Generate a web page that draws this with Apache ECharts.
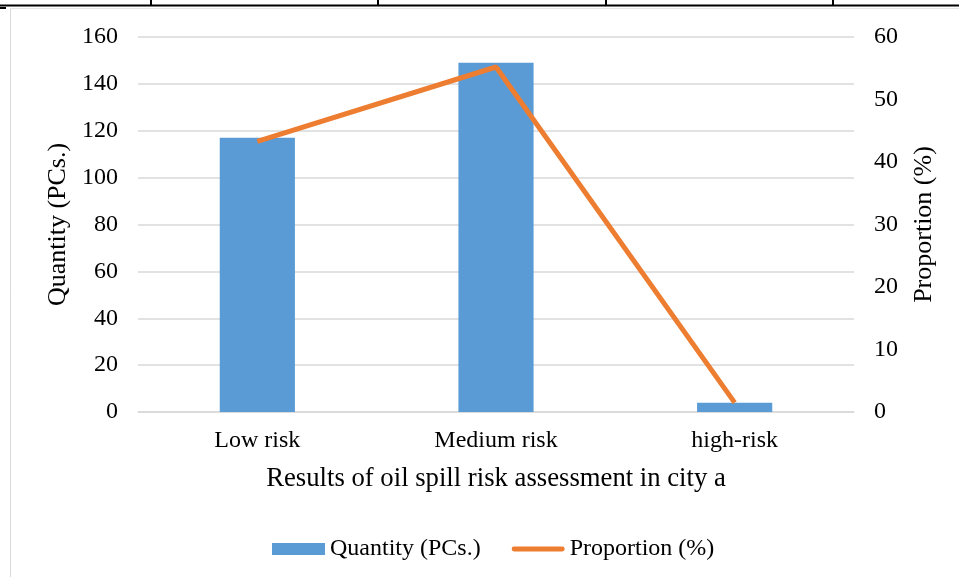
<!DOCTYPE html>
<html><head><meta charset="utf-8">
<script src="https://cdn.jsdelivr.net/npm/echarts@6/dist/echarts.min.js"></script>
<style>html,body{margin:0;padding:0;background:#fff}#c{width:959px;height:577px}</style>
</head><body><div id="c"></div>
<script>
const categories = ['Low risk', 'Medium risk', 'high-risk'];
const quantity = [117, 149, 4];
const proportion = [43.3, 55.2, 1.5];
const leftTicks = [0, 160, 20];
const rightTicks = [0, 60, 10];

const font = '"Liberation Serif", "Times New Roman", serif';
const chart = echarts.init(document.getElementById('c'));
chart.setOption({
  animation: false,
  backgroundColor: '#fff',
  textStyle: { fontFamily: font, color: '#000' },
  graphic: [
    { type: 'line', shape: { x1: 0, y1: 5.5, x2: 959, y2: 5.5 }, style: { stroke: '#000', lineWidth: 2 } },
    { type: 'line', shape: { x1: 151, y1: 0, x2: 151, y2: 5 }, style: { stroke: '#000', lineWidth: 2 } },
    { type: 'line', shape: { x1: 378, y1: 0, x2: 378, y2: 5 }, style: { stroke: '#000', lineWidth: 2 } },
    { type: 'line', shape: { x1: 606, y1: 0, x2: 606, y2: 5 }, style: { stroke: '#000', lineWidth: 2 } },
    { type: 'line', shape: { x1: 833, y1: 0, x2: 833, y2: 5 }, style: { stroke: '#000', lineWidth: 2 } },
    { type: 'line', shape: { x1: 10.5, y1: 8, x2: 10.5, y2: 577 }, style: { stroke: '#d9d9d9', lineWidth: 1 } },
    { type: 'line', shape: { x1: 10, y1: 8.5, x2: 959, y2: 8.5 }, style: { stroke: '#e6e6e6', lineWidth: 1 } },
    { type: 'line', shape: { x1: 0, y1: 8, x2: 6, y2: 8 }, style: { stroke: '#000', lineWidth: 2 } }
  ],
  grid: { left: 138, right: 105, top: 37, bottom: 165, containLabel: false },
  legend: {
    left: 267, top: 532, itemGap: 31, itemWidth: 53, itemHeight: 12,
    textStyle: { fontFamily: font, fontSize: 24, color: '#000' },
    data: [
      { name: 'Quantity (PCs.)', icon: 'rect' },
      { name: 'Proportion (%)', icon: 'path://M2.5,0 L52.5,0 A2.5,2.5 0 0 1 52.5,5 L2.5,5 A2.5,2.5 0 0 1 2.5,0 Z' }
    ]
  },
  xAxis: {
    type: 'category', data: categories,
    name: 'Results of oil spill risk assessment in city a', nameLocation: 'middle', nameGap: 53,
    nameTextStyle: { fontFamily: font, fontSize: 26.7, color: '#000' },
    axisLine: { lineStyle: { color: '#d9d9d9', width: 1.5 } },
    axisTick: { show: false },
    axisLabel: { fontFamily: font, fontSize: 24, color: '#000', margin: 17 }
  },
  yAxis: [
    {
      type: 'value', min: leftTicks[0], max: leftTicks[1], interval: leftTicks[2],
      name: 'Quantity (PCs.)', nameLocation: 'middle', nameGap: 58, nameRotate: 90,
      nameTextStyle: { fontFamily: font, fontSize: 26, color: '#000' },
      axisLine: { show: false }, axisTick: { show: false },
      axisLabel: { fontFamily: font, fontSize: 24, color: '#000', margin: 20 },
      splitLine: { lineStyle: { color: '#d9d9d9', width: 1.5 } }
    },
    {
      type: 'value', min: rightTicks[0], max: rightTicks[1], interval: rightTicks[2],
      name: 'Proportion (%)', nameLocation: 'middle', nameGap: 57, nameRotate: 90,
      nameTextStyle: { fontFamily: font, fontSize: 26, color: '#000' },
      axisLine: { show: false }, axisTick: { show: false },
      axisLabel: { fontFamily: font, fontSize: 24, color: '#000', margin: 20 },
      splitLine: { show: false }
    }
  ],
  series: [
    {
      name: 'Quantity (PCs.)', type: 'bar', data: quantity, yAxisIndex: 0,
      barWidth: '31.5%', itemStyle: { color: '#5b9bd5' }
    },
    {
      name: 'Proportion (%)', type: 'line', data: proportion, yAxisIndex: 1,
      symbol: 'none', lineStyle: { color: '#ed7d31', width: 5 }, itemStyle: { color: '#ed7d31' }
    }
  ]
});
</script></body></html>
